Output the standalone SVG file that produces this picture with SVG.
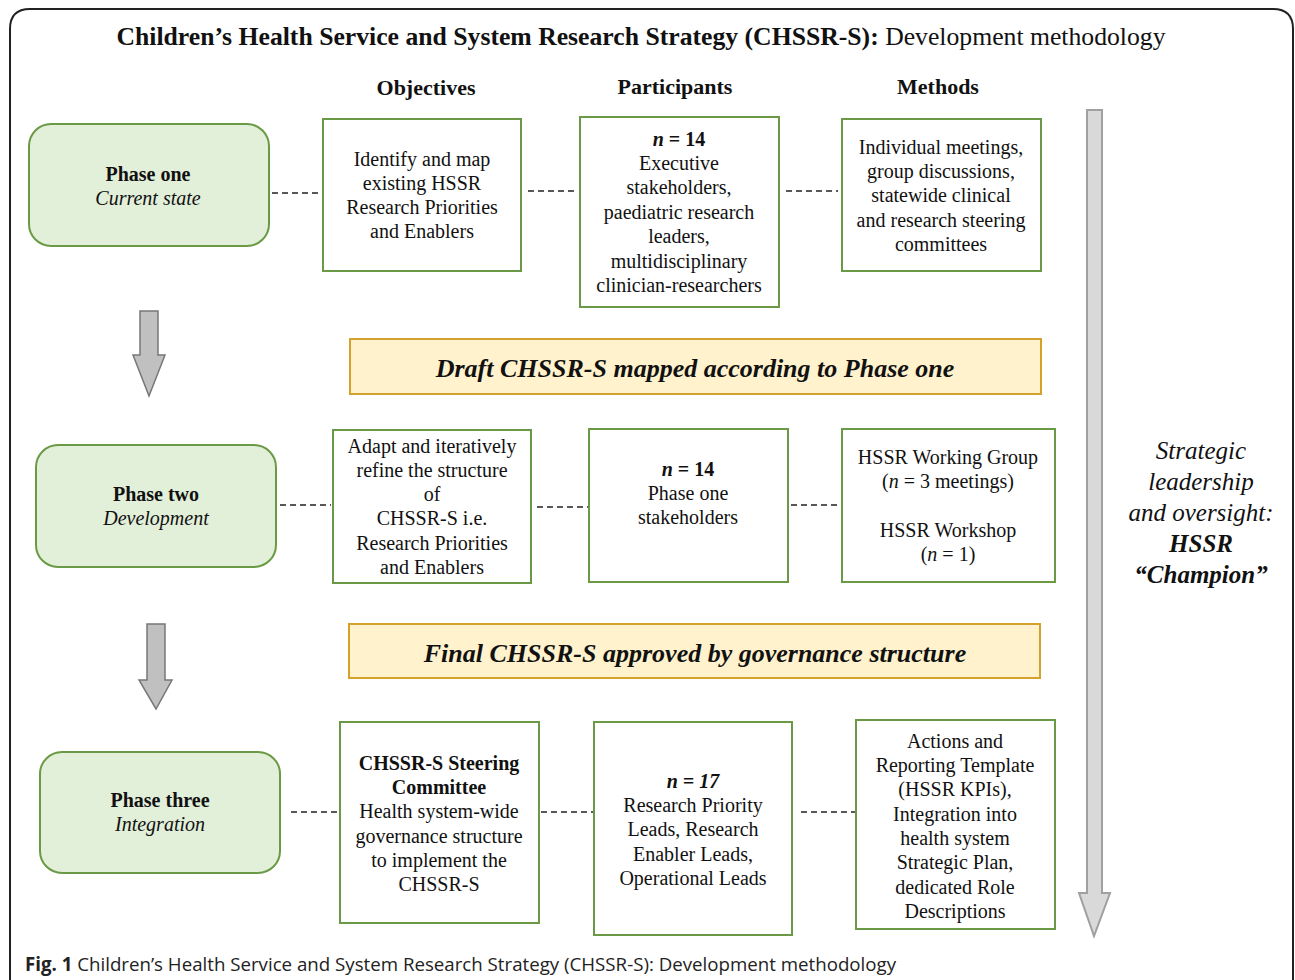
<svg xmlns="http://www.w3.org/2000/svg" width="1295" height="980" viewBox="0 0 1295 980">
<defs>
<style>
text{font-family:"Liberation Serif","Times New Roman",serif;fill:#111;}
.t{font-family:"Liberation Serif","Times New Roman",serif;font-size:20px;text-anchor:middle;}
.h{font-family:"Liberation Serif","Times New Roman",serif;font-size:22px;font-weight:bold;text-anchor:middle;}
.b{font-weight:bold;}
.i{font-style:italic;}
.phase{fill:#e2efd9;stroke:#6b9a46;stroke-width:2;}
.box{fill:#fff;stroke:#6b9a46;stroke-width:2;}
.ban{fill:#fff2cc;stroke:#d4a22c;stroke-width:2;}
.ban-t{font-family:"Liberation Serif","Times New Roman",serif;font-size:26px;font-weight:bold;font-style:italic;text-anchor:middle;}
.dash{stroke:#222;stroke-width:1.5;stroke-dasharray:6,4;fill:none;}
.arr{fill:#c0c0c0;stroke:#777;stroke-width:1.5;}
.big{fill:#d9d9d9;stroke:#a0a0a0;stroke-width:2;}
.side{font-family:"Liberation Serif","Times New Roman",serif;font-size:25px;font-style:italic;text-anchor:middle;}
</style>
</defs>
<rect width="1295" height="980" fill="#fff"/>
<path d="M10,990 L10,29 Q10,9 30,9 L1273,9 Q1293,9 1293,29 L1293,990" fill="none" stroke="#222" stroke-width="2"/>

<text x="641" y="45" style="font-family:'Liberation Serif','Times New Roman',serif;font-size:25.7px;text-anchor:middle"><tspan class="b">Children’s Health Service and System Research Strategy (CHSSR-S):</tspan> Development methodology</text>

<text class="h" x="426" y="95">Objectives</text>
<text class="h" x="675" y="94">Participants</text>
<text class="h" x="938" y="94">Methods</text>

<g id="connectors">
<line class="dash" x1="272" y1="193" x2="322" y2="193"/>
<line class="dash" x1="528" y1="191" x2="578" y2="191"/>
<line class="dash" x1="786" y1="191" x2="838" y2="191"/>
<line class="dash" x1="280" y1="505" x2="331" y2="505"/>
<line class="dash" x1="537" y1="507" x2="588" y2="507"/>
<line class="dash" x1="791" y1="505" x2="841" y2="505"/>
<line class="dash" x1="291" y1="812" x2="339" y2="812"/>
<line class="dash" x1="541" y1="812" x2="593" y2="812"/>
<line class="dash" x1="801" y1="812" x2="855" y2="812"/>
<path id="arrow1" class="arr" d="M140,311 L158,311 L158,355 L165,355 L149,396 L133,355 L140,355 Z"/>
<path id="arrow2" class="arr" d="M147,624 L165,624 L165,680 L172,680 L156,709 L139,680 L147,680 Z"/>
<path id="arrow-side" class="big" d="M1087,110 L1102,110 L1102,893 L1110,893 L1094,936 L1079,893 L1087,893 Z"/>
</g>

<g id="phase1">
<rect class="phase" x="29" y="124" width="240" height="122" rx="22"/>
<text class="t b" x="148" y="181">Phase one</text>
<text class="t i" x="148" y="205">Current state</text>
</g>
<g id="obj1">
<rect class="box" x="323" y="119" width="198" height="152"/>
<text class="t" x="422" y="166">Identify and map</text>
<text class="t" x="422" y="190">existing HSSR</text>
<text class="t" x="422" y="214">Research Priorities</text>
<text class="t" x="422" y="238">and Enablers</text>
</g>
<g id="part1">
<rect class="box" x="580" y="117" width="199" height="190"/>
<text class="t b i" x="679" y="146">n<tspan font-style="normal"> = 14</tspan></text>
<text class="t" x="679" y="170">Executive</text>
<text class="t" x="679" y="194">stakeholders,</text>
<text class="t" x="679" y="219">paediatric research</text>
<text class="t" x="679" y="243">leaders,</text>
<text class="t" x="679" y="268">multidisciplinary</text>
<text class="t" x="679" y="292">clinician-researchers</text>
</g>
<g id="meth1">
<rect class="box" x="842" y="119" width="199" height="152"/>
<text class="t" x="941" y="154">Individual meetings,</text>
<text class="t" x="941" y="178">group discussions,</text>
<text class="t" x="941" y="202">statewide clinical</text>
<text class="t" x="941" y="227">and research steering</text>
<text class="t" x="941" y="251">committees</text>
</g>

<g id="banner1">
<rect class="ban" x="350" y="339" width="691" height="55"/>
<text class="ban-t" x="695" y="377">Draft CHSSR-S mapped according to Phase one</text>
</g>

<g id="phase2">
<rect class="phase" x="36" y="445" width="240" height="122" rx="22"/>
<text class="t b" x="156" y="501">Phase two</text>
<text class="t i" x="156" y="525">Development</text>
</g>
<g id="obj2">
<rect class="box" x="333" y="430" width="198" height="153"/>
<text class="t" x="432" y="453">Adapt and iteratively</text>
<text class="t" x="432" y="477">refine the structure</text>
<text class="t" x="432" y="501">of</text>
<text class="t" x="432" y="525">CHSSR-S i.e.</text>
<text class="t" x="432" y="550">Research Priorities</text>
<text class="t" x="432" y="574">and Enablers</text>
</g>
<g id="part2">
<rect class="box" x="589" y="429" width="199" height="153"/>
<text class="t b i" x="688" y="476">n<tspan font-style="normal"> = 14</tspan></text>
<text class="t" x="688" y="500">Phase one</text>
<text class="t" x="688" y="524">stakeholders</text>
</g>
<g id="meth2">
<rect class="box" x="842" y="429" width="213" height="153"/>
<text class="t" x="948" y="464">HSSR Working Group</text>
<text class="t" x="948" y="488">(<tspan class="i">n</tspan> = 3 meetings)</text>
<text class="t" x="948" y="537">HSSR Workshop</text>
<text class="t" x="948" y="561">(<tspan class="i">n</tspan> = 1)</text>
</g>

<g id="banner2">
<rect class="ban" x="349" y="624" width="691" height="54"/>
<text class="ban-t" x="695" y="662">Final CHSSR-S approved by governance structure</text>
</g>

<g id="phase3">
<rect class="phase" x="40" y="752" width="240" height="121" rx="22"/>
<text class="t b" x="160" y="807">Phase three</text>
<text class="t i" x="160" y="831">Integration</text>
</g>
<g id="obj3">
<rect class="box" x="340" y="722" width="199" height="201"/>
<text class="t b" x="439" y="770">CHSSR-S Steering</text>
<text class="t b" x="439" y="794">Committee</text>
<text class="t" x="439" y="818">Health system-wide</text>
<text class="t" x="439" y="843">governance structure</text>
<text class="t" x="439" y="867">to implement the</text>
<text class="t" x="439" y="891">CHSSR-S</text>
</g>
<g id="part3">
<rect class="box" x="594" y="722" width="198" height="213"/>
<text class="t b i" x="693" y="788">n = 17</text>
<text class="t" x="693" y="812">Research Priority</text>
<text class="t" x="693" y="836">Leads, Research</text>
<text class="t" x="693" y="861">Enabler Leads,</text>
<text class="t" x="693" y="885">Operational Leads</text>
</g>
<g id="meth3">
<rect class="box" x="856" y="720" width="199" height="209"/>
<text class="t" x="955" y="748">Actions and</text>
<text class="t" x="955" y="772">Reporting Template</text>
<text class="t" x="955" y="796">(HSSR KPIs),</text>
<text class="t" x="955" y="821">Integration into</text>
<text class="t" x="955" y="845">health system</text>
<text class="t" x="955" y="869">Strategic Plan,</text>
<text class="t" x="955" y="894">dedicated Role</text>
<text class="t" x="955" y="918">Descriptions</text>
</g>

<g id="side-label">
<text class="side" x="1201" y="459">Strategic</text>
<text class="side" x="1201" y="490">leadership</text>
<text class="side" x="1201" y="521">and oversight:</text>
<text class="side b" x="1201" y="552">HSSR</text>
<text class="side b" x="1201" y="583">“Champion”</text>
</g>

<text x="25" y="971" style="font-family:'Open Sans','Noto Sans',sans-serif;font-size:18.7px;fill:#222"><tspan font-weight="bold">Fig. 1</tspan> Children’s Health Service and System Research Strategy (CHSSR-S): Development methodology</text>
</svg>
